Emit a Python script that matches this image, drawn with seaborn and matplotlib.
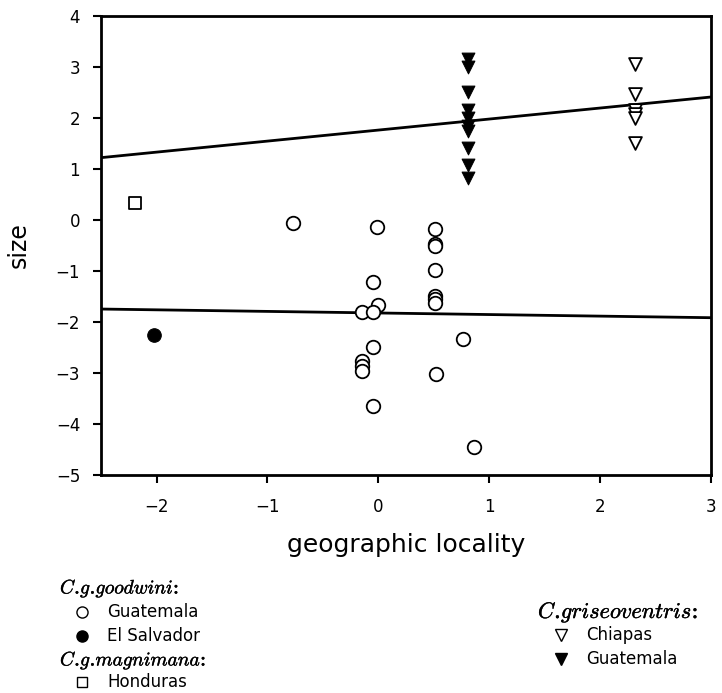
import numpy as np
import pandas as pd
import matplotlib
matplotlib.use("Agg")
import matplotlib.pyplot as plt
from matplotlib.lines import Line2D
import matplotlib.patheffects as pe
import seaborn as sns

# ---- data ----
gw_guat_x = [-0.77, -0.01, 0.51, 0.51, 0.51, 0.51, 0.51, 0.51, 0.51, -0.05, 0.0,
             -0.15, -0.05, -0.05, -0.15, -0.15, -0.15, -0.05, 0.52, 0.76, 0.86]
gw_guat_y = [-0.06, -0.14, -0.18, -0.47, -0.51, -0.98, -1.49, -1.55, -1.63, -1.22, -1.67,
             -1.81, -1.81, -2.50, -2.77, -2.87, -2.97, -3.65, -3.03, -2.34, -4.46]
gw_salv_x = [-2.02]
gw_salv_y = [-2.25]
mg_hond_x = [-2.19]
mg_hond_y = [0.33]
gr_chia_x = [2.31, 2.31, 2.31, 2.31, 2.31, 2.31]
gr_chia_y = [3.05, 2.47, 2.15, 2.08, 2.0, 1.5]
gr_guat_x = [0.81] * 10
gr_guat_y = [3.15, 3.0, 2.5, 2.15, 2.0, 1.85, 1.75, 1.4, 1.08, 0.82]
line_x = [-2.5, 3.0]
upper_line_y = [1.22, 2.41]
lower_line_y = [-1.75, -1.92]
x_ticks = [-2, -1, 0, 1, 2, 3]
y_ticks = [4, 3, 2, 1, 0, -1, -2, -3, -4, -5]

sns.set_style("white")
plt.rcParams["font.family"] = ["DejaVu Sans"]
plt.rcParams["mathtext.fontset"] = "cm"
plt.rcParams["text.color"] = "black"
plt.rcParams["axes.labelcolor"] = "black"

fig = plt.figure(figsize=(7.22, 6.93), dpi=100)
ax = fig.add_axes([0.140, 0.315, 0.845, 0.662])

ms = 95
sns.scatterplot(x=gw_guat_x, y=gw_guat_y, ax=ax, marker="o", s=ms,
                facecolor="white", edgecolor="black", linewidth=1.3, zorder=3)
sns.scatterplot(x=gw_salv_x, y=gw_salv_y, ax=ax, marker="o", s=ms,
                color="black", edgecolor="black", zorder=3)
sns.scatterplot(x=mg_hond_x, y=mg_hond_y, ax=ax, marker="s", s=75,
                facecolor="white", edgecolor="black", linewidth=1.3, zorder=3)
sns.scatterplot(x=gr_chia_x, y=gr_chia_y, ax=ax, marker="v", s=85,
                facecolor="white", edgecolor="black", linewidth=1.3, zorder=3)
sns.scatterplot(x=gr_guat_x, y=gr_guat_y, ax=ax, marker="v", s=85,
                color="black", edgecolor="black", zorder=3)
sns.lineplot(x=line_x, y=upper_line_y, ax=ax, color="black", linewidth=2)
sns.lineplot(x=line_x, y=lower_line_y, ax=ax, color="black", linewidth=2)

ax.set_xlim(-2.5, 3)
ax.set_ylim(-5, 4)
ax.set_xticks(x_ticks)
ax.set_yticks(y_ticks)
ax.set_xticklabels([f"{t}".replace("-", "\u2212") for t in x_ticks])
ax.set_yticklabels([f"{t}".replace("-", "\u2212") for t in y_ticks])
ax.tick_params(axis="both", direction="out", length=6, width=1.5, labelsize=12,
               bottom=True, left=True, colors="black")
ax.tick_params(axis="x", pad=11)
ax.tick_params(axis="y", pad=9)
for s in ax.spines.values():
    s.set_linewidth(2)
    s.set_color("black")
ax.set_xlabel("geographic locality", fontsize=18, labelpad=12, color="black")
ax.set_ylabel("size", fontsize=17, labelpad=18, color="black")

W, H = 722, 693
def fx(px):
    return px / W
def fy(py):
    return 1 - py / H

def hdr(px, py, txt, size):
    fig.text(fx(px), fy(py), txt, fontsize=size, va="center", ha="left",
             family="DejaVu Serif",
             path_effects=[pe.withStroke(linewidth=0.3, foreground="black")])

def entry(px, py, marker, fill, label, msize=8):
    fig.add_artist(Line2D([fx(px)], [fy(py)], transform=fig.transFigure,
                          marker=marker, markersize=msize, markerfacecolor=fill,
                          markeredgecolor="black", markeredgewidth=1.0, linestyle="none"))
    fig.text(fx(px + 25), fy(py), label, fontsize=12, va="center", ha="left")

hdr(60, 588, r"$C$.$g$.$goodwini$:", 14)
entry(82, 612, "o", "white", "Guatemala")
entry(82, 636, "o", "black", "El Salvador")
hdr(60, 660, r"$C$.$g$.$magnimana$:", 14)
entry(82, 682, "s", "white", "Honduras", msize=7)
hdr(538, 612, r"$C$.$griseoventris$:", 16)
entry(561, 635, "v", "white", "Chiapas")
entry(561, 659, "v", "black", "Guatemala")

fig.savefig("out.png", dpi=100, facecolor="white")
